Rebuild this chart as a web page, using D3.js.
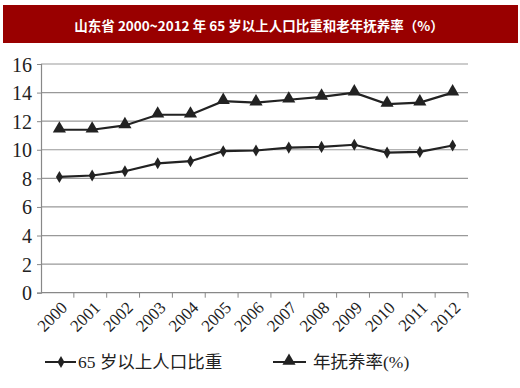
<!DOCTYPE html>
<html><head><meta charset="utf-8">
<script src="https://cdn.jsdelivr.net/npm/d3@7"></script>
<style>
body{margin:0;background:#fff;}
svg{display:block;}
</style></head>
<body>
<svg id="c" width="520" height="388"></svg>
<script>
const title = "山东省 2000~2012 年 65 岁以上人口比重和老年抚养率（%）";
const years = ["2000","2001","2002","2003","2004","2005","2006","2007","2008","2009","2010","2011","2012"];
const elderShare = [8.1, 8.2, 8.5, 9.05, 9.2, 9.9, 9.95, 10.15, 10.2, 10.35, 9.8, 9.85, 10.3];
const dependency = [11.4, 11.4, 11.7, 12.45, 12.45, 13.4, 13.3, 13.5, 13.7, 14.0, 13.2, 13.3, 14.0];
const yTicks = [0, 2, 4, 6, 8, 10, 12, 14, 16];
const legendLabels = ["65 岁以上人口比重", "年抚养率(%)"];

const SERIF = '"Liberation Serif","Times New Roman","DejaVu Serif","Noto Sans CJK SC",serif';
const svg = d3.select("#c");
// title banner
svg.append("rect").attr("x", 3).attr("y", 5).attr("width", 515).attr("height", 38).attr("fill", "#990000");
svg.append("text").attr("x", 259).attr("y", 30.5).attr("text-anchor", "middle")
  .attr("fill", "#fff").style("font-family", "'Noto Sans CJK SC', sans-serif")
  .attr("font-weight", "bold").style("font-size", "13.5px").text(title);

const x = d3.scalePoint().domain(years).range([43, 469]).padding(0.5);
const y = d3.scaleLinear().domain([0, 16]).range([292.7, 64]);
const xL = 41, xR = 468;

// gridlines
svg.append("g").selectAll("line").data(yTicks.filter(d => d > 0)).join("line")
  .attr("x1", xL).attr("x2", xR).attr("y1", d => y(d)).attr("y2", d => y(d))
  .attr("stroke", "#999").attr("stroke-width", 1.2);

// y axis
const yAxis = svg.append("g").attr("transform", `translate(${xL},0)`)
  .call(d3.axisLeft(y).tickValues(yTicks).tickSize(4).tickPadding(5));
yAxis.attr("font-family", null).attr("font-size", null);
yAxis.select(".domain").attr("stroke", "#888").attr("stroke-width", 1.2);
yAxis.selectAll(".tick line").attr("stroke", "#888");
yAxis.selectAll("text").style("font-family", SERIF).style("font-size", "20px").attr("fill", "#222").attr("dy", "0.35em");

// x axis
const xb = d3.scaleBand().domain(years).range([xL, xR]);
const xAxisG = svg.append("g").attr("transform", `translate(0,${y(0)})`);
xAxisG.append("line").attr("x1", xL).attr("x2", xR).attr("stroke", "#888").attr("stroke-width", 1.2);
xAxisG.selectAll("line.t").data(years).join("line").attr("class", "t")
  .attr("x1", d => xb(d) + xb.bandwidth()).attr("x2", d => xb(d) + xb.bandwidth())
  .attr("y1", 0).attr("y2", 5).attr("stroke", "#888");
xAxisG.selectAll("text").data(years).join("text")
  .attr("transform", d => `translate(${x(d) + 9},${16}) rotate(-45)`)
  .attr("text-anchor", "end").style("font-family", SERIF)
  .style("font-size", "17px").attr("fill", "#222").text(d => d);

// lines
const line = d3.line().x((d, i) => x(years[i])).y(d => y(d));
svg.append("path").datum(elderShare).attr("d", line).attr("fill", "none").attr("stroke", "#222").attr("stroke-width", 2.2);
svg.append("path").datum(dependency).attr("d", line).attr("fill", "none").attr("stroke", "#222").attr("stroke-width", 2.2);

const diamond = d3.symbol().type(d3.symbolDiamond).size(42);
const tri = d3.symbol().type(d3.symbolTriangle).size(75);
svg.append("g").selectAll("path").data(elderShare).join("path")
  .attr("d", diamond).attr("transform", (d, i) => `translate(${x(years[i])},${y(d)})`).attr("fill", "#222");
svg.append("g").selectAll("path").data(dependency).join("path")
  .attr("d", tri).attr("transform", (d, i) => `translate(${x(years[i])},${y(d) - 1})`).attr("fill", "#222");

// legend
const lg = svg.append("g");
const ly = 362;
lg.append("line").attr("x1", 45).attr("x2", 76).attr("y1", ly).attr("y2", ly).attr("stroke", "#222").attr("stroke-width", 2);
lg.append("path").attr("d", diamond).attr("transform", `translate(61,${ly})`).attr("fill", "#222");
lg.append("text").attr("x", 78).attr("y", ly + 6).style("font-family", SERIF)
  .style("font-size", "17.5px").attr("fill", "#222").text(legendLabels[0]);
lg.append("line").attr("x1", 273).attr("x2", 306).attr("y1", ly).attr("y2", ly).attr("stroke", "#222").attr("stroke-width", 2);
lg.append("path").attr("d", tri).attr("transform", `translate(289,${ly - 1})`).attr("fill", "#222");
lg.append("text").attr("x", 313).attr("y", ly + 6).style("font-family", SERIF)
  .style("font-size", "17.5px").attr("fill", "#222").text(legendLabels[1]);
</script>
</body></html>
